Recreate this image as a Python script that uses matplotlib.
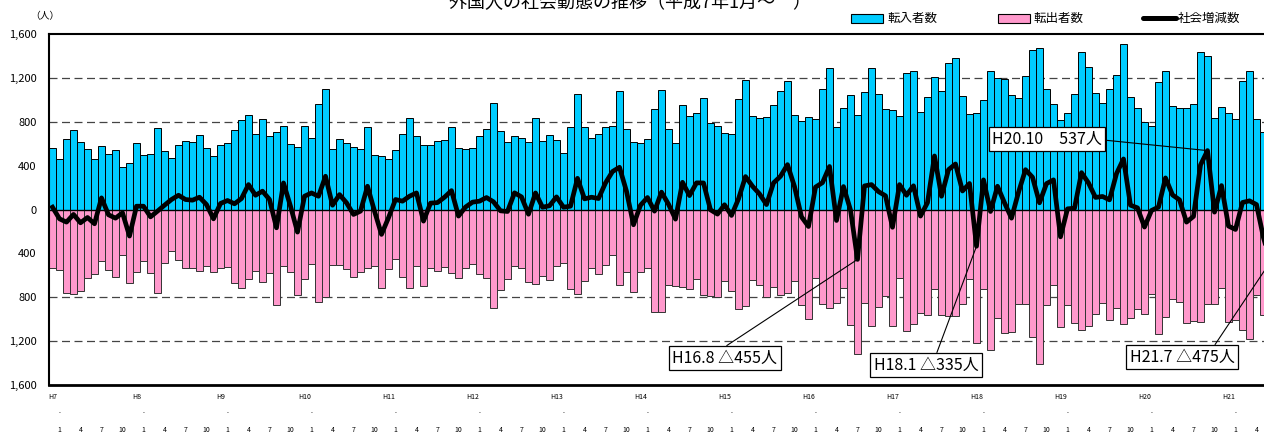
import numpy as np
import matplotlib
matplotlib.use('Agg')
import matplotlib.pyplot as plt
from matplotlib.patches import Rectangle
from matplotlib.lines import Line2D

plt.rcParams['font.family'] = ['Noto Sans CJK JP', 'DejaVu Sans']

# monthly data, H7.1 (Jan 1995) onwards
years = ['H7', 'H8', 'H9', 'H10', 'H11', 'H12', 'H13', 'H14',
         'H15', 'H16', 'H17', 'H18', 'H19', 'H20', 'H21']
month_ticks = [1, 4, 7, 10]

inflow = [
    557, 464, 645, 724, 618, 548, 458, 579, 506, 539, 388, 424,
    603, 500, 509, 742, 530, 473, 591, 627, 615, 676, 561, 485,
    591, 603, 724, 815, 861, 688, 824, 667, 706, 758, 597, 570,
    758, 652, 961, 1097, 548, 642, 606, 570, 551, 748, 497, 491,
    464, 539, 691, 833, 667, 591, 588, 624, 636, 754, 561, 555,
    561, 667, 730, 970, 718, 618, 670, 648, 615, 833, 624, 679,
    630, 512, 751, 1051, 751, 648, 691, 751, 761, 1076, 733, 612,
    609, 639, 918, 1091, 733, 606, 951, 848, 879, 1018, 785, 758,
    694, 685, 1003, 1179, 851, 833, 845, 951, 1082, 1173, 861, 803,
    845, 824, 1103, 1288, 748, 921, 1045, 858, 1070, 1291, 1051, 915,
    903, 848, 1242, 1264, 888, 1024, 1209, 1082, 1333, 1385, 1033, 867,
    882, 997, 1264, 1200, 1191, 1042, 1015, 1221, 1454, 1470, 1103, 961,
    818, 879, 1051, 1439, 1300, 1064, 967, 1097, 1227, 1509, 1024, 924,
    797, 764, 1161, 1264, 945, 927, 924, 958, 1436, 1397, 834, 933,
    879, 824, 1167, 1264, 821, 703, 700,
]

outflow = [
    536, 549, 760, 769, 739, 621, 588, 473, 554, 618, 418, 666,
    573, 470, 576, 757, 491, 382, 461, 536, 530, 564, 516, 570,
    536, 521, 672, 715, 634, 558, 657, 576, 873, 516, 567, 776,
    637, 501, 840, 794, 509, 506, 545, 615, 566, 536, 512, 718,
    539, 448, 615, 712, 516, 697, 530, 561, 524, 582, 621, 533,
    494, 591, 621, 900, 730, 636, 518, 533, 658, 682, 603, 645,
    515, 491, 721, 767, 654, 536, 591, 509, 415, 691, 567, 751,
    570, 530, 933, 933, 685, 694, 703, 721, 636, 776, 788, 800,
    651, 739, 906, 879, 639, 691, 800, 709, 779, 764, 652, 870,
    1000, 620, 858, 896, 848, 712, 1050, 1313, 855, 1064, 888, 790,
    1065, 621, 1112, 1048, 948, 961, 721, 961, 970, 970, 864, 630,
    1217, 727, 1282, 988, 1130, 1121, 858, 858, 1160, 1409, 867, 691,
    1067, 873, 1039, 1103, 1058, 954, 848, 1009, 900, 1048, 985, 909,
    957, 773, 1139, 976, 812, 839, 1039, 1021, 1030, 860, 858, 715,
    1030, 1006, 1103, 1185, 776, 961, 1175,
]

inflow = np.array(inflow)
outflow = np.array(outflow)
net = inflow - outflow
x = np.arange(len(inflow))

# callouts: month index, label, box centre (px), where the leader leaves the box
callouts = [
    (115, 'H16.8 △455人', (725, 358), (0.46, 1.0)),
    (132, 'H18.1 △335人', (926, 365), (0.59, 1.0)),
    (165, 'H20.10　537人', (1047, 139), (1.0, 0.45)),
    (174, 'H21.7 △475人', (1182, 357), (0.79, 1.0)),
]

W, H = 1264, 432
fig = plt.figure(figsize=(W / 100, H / 100), dpi=100)
ax = fig.add_axes([49 / W, 1 - 385 / H, 1232 / W, 351 / H])

for v in (1200, 800, -800, -1200):
    ax.axhline(v, color='#444444', lw=0.9, ls=(0, (6.4, 3.6)), zorder=1)

ax.bar(x, inflow, width=0.86, color='#00CCFF', edgecolor='black',
       linewidth=0.7, zorder=2)
ax.bar(x, -outflow, width=0.86, color='#FF99CC', edgecolor='#333333',
       linewidth=0.7, zorder=2)
ax.axhline(0, color='black', lw=1.0, zorder=3)
ax.plot(x, net, color='black', lw=3.4, solid_joinstyle='round', zorder=4)

ax.set_xlim(-0.5, 175.5)
ax.set_ylim(-1600, 1600)
yt = np.arange(-1600, 1601, 400)
ax.set_yticks(yt)
ax.set_yticklabels([f'{abs(v):,}' for v in yt], fontsize=8)
ax.tick_params(axis='y', length=0, pad=9)
ax.set_xticks([])
ax.spines['right'].set_visible(False)
ax.spines['left'].set_linewidth(1.5)
ax.spines['top'].set_linewidth(1.5)
ax.spines['bottom'].set_linewidth(2.0)

# year / month labels under the axis
tr = ax.get_xaxis_transform()
for k, yl in enumerate(years):
    i = 12 * k
    ax.text(i, -0.033, yl, transform=tr, ha='center', va='center', fontsize=5)
    ax.text(i + 1, -0.075, '.', transform=tr, ha='center', va='center', fontsize=5)
    for m in month_ticks:
        ax.text(i + m, -0.118, str(m), transform=tr, ha='center', va='top',
                fontsize=5, clip_on=False)

for idx, txt, (cx, cy), rel in callouts:
    ax.annotate(txt, xy=(idx, net[idx]), xytext=(cx / W, 1 - cy / H),
                textcoords='figure fraction', ha='center', va='center',
                fontsize=11.5, annotation_clip=False,
                bbox=dict(boxstyle='square,pad=0.22', fc='white', ec='black', lw=0.9),
                arrowprops=dict(arrowstyle='-', color='black', lw=0.8,
                                relpos=rel, shrinkA=0, shrinkB=0))

# title, unit and legend
fig.text(630 / W, 1 - 3 / H, '外国人の社会動態の推移（平成7年1月～　）',
         ha='center', va='center', fontsize=13)
fig.text(45 / W, 1 - 16 / H, '（人）', ha='center', va='center', fontsize=7)

def fx(px):
    return px / W

def fy(py):
    return 1 - py / H

fig.add_artist(Rectangle((fx(851), fy(23)), 32 / W, 9 / H, transform=fig.transFigure,
                         fc='#00CCFF', ec='black', lw=0.8))
fig.text(fx(887), fy(18), '転入者数', ha='left', va='center', fontsize=9)
fig.add_artist(Rectangle((fx(998), fy(23)), 32 / W, 9 / H, transform=fig.transFigure,
                         fc='#FF99CC', ec='black', lw=0.8))
fig.text(fx(1034), fy(18), '転出者数', ha='left', va='center', fontsize=9)
fig.add_artist(Line2D([fx(1143), fx(1176)], [fy(18), fy(18)], transform=fig.transFigure,
                      color='black', lw=3.6, solid_capstyle='round'))
fig.text(fx(1178), fy(18), '社会増減数', ha='left', va='center', fontsize=9)

fig.savefig('out.png', dpi=100)
